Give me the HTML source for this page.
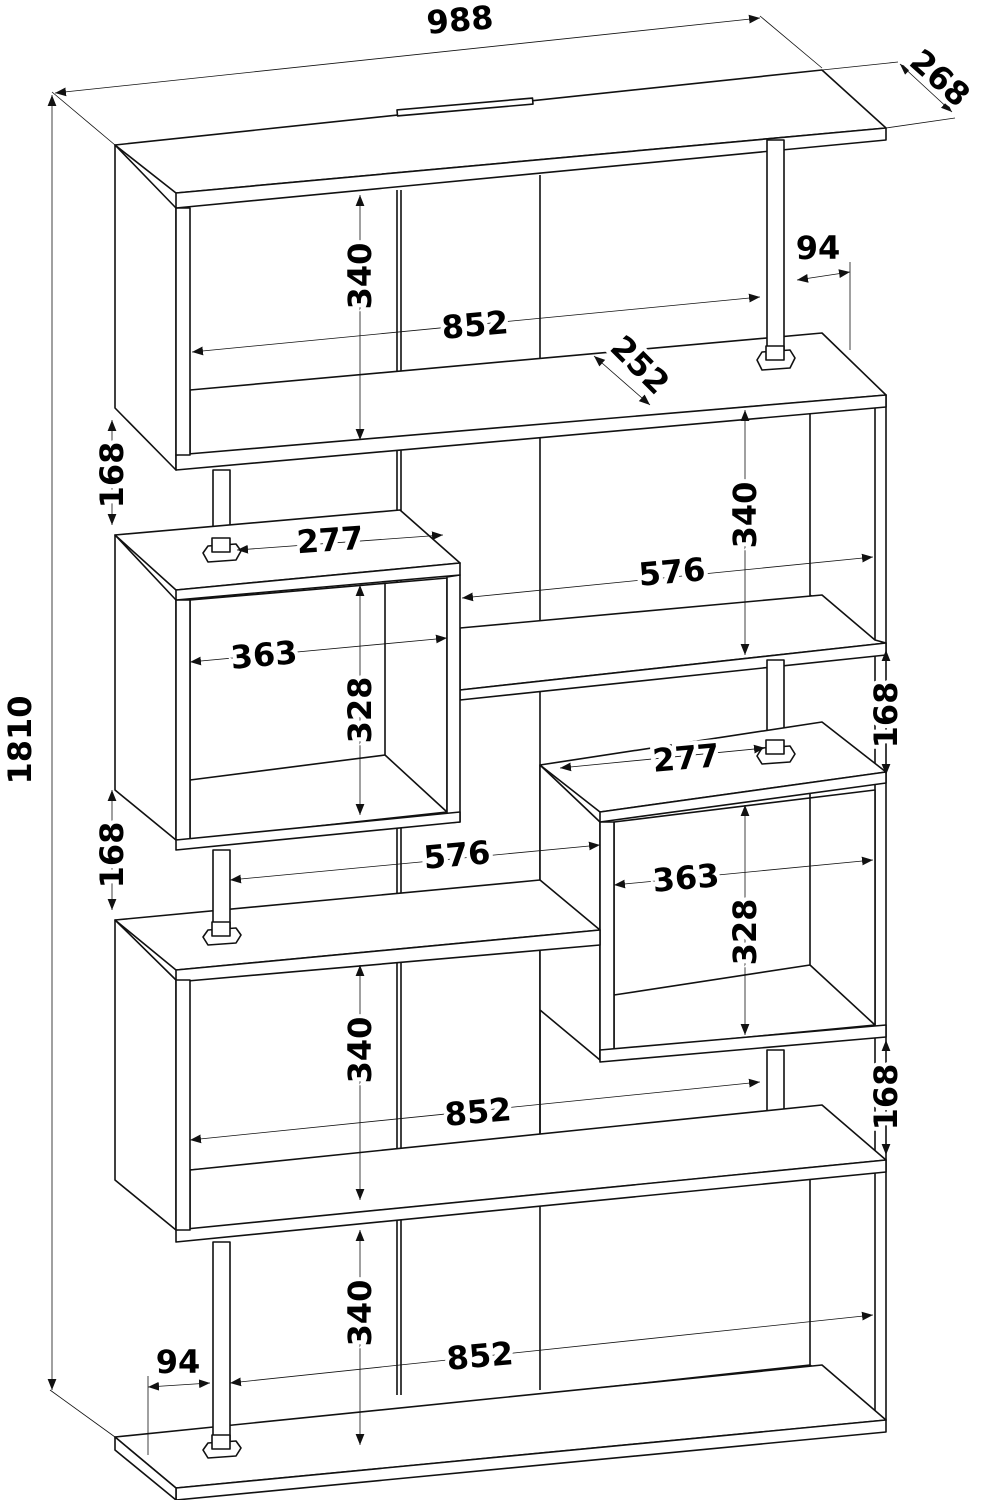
<!DOCTYPE html>
<html><head><meta charset="utf-8"><style>
html,body{margin:0;padding:0;background:#fff}
svg{display:block}
.b{fill:#fff;stroke:#111;stroke-width:1.6;stroke-linejoin:round}
.l{fill:none;stroke:#111;stroke-width:1.6}
.d{fill:none;stroke:#111;stroke-width:0.8}
.t{font-family:"DejaVu Sans","Liberation Sans",sans-serif;font-weight:bold;font-size:32px;fill:#000;stroke:#fff;stroke-width:8px;paint-order:stroke;text-anchor:middle;dominant-baseline:central}
</style></head><body>
<svg width="987" height="1500" viewBox="0 0 987 1500" xmlns="http://www.w3.org/2000/svg">
<defs>
<marker id="a" viewBox="0 0 10 10" refX="10" refY="5" markerWidth="11" markerHeight="11" markerUnits="userSpaceOnUse" orient="auto-start-reverse"><path d="M0,1 L10,5 L0,9 z" fill="#111"/></marker>
</defs>

<g class="l">
<line x1="397" y1="190" x2="397" y2="1395"/><line x1="401" y1="190" x2="401" y2="1395"/>
<line x1="540" y1="175" x2="540" y2="1390"/>
</g>

<rect class="b" x="875" y="395" width="11" height="1025"/>
<g class="l">
<polyline points="810,400 810,595 875,640"/>
<polyline points="810,1175 810,1365 875,1415"/>
<line x1="230" y1="1428" x2="810" y2="1365"/>
</g>

<!-- top unit -->
<polygon class="b" points="115,145 115,408 176,470 176,208"/>
<polygon class="b" points="190,390 822,333 886,395 190,455"/>
<polygon class="b" points="176,455 886,395 886,407 176,470"/>
<rect class="b" x="176" y="208" width="14" height="247"/>
<polygon class="b" points="115,145 822,70 886,128 176,193"/>
<polygon class="b" points="176,193 886,128 886,140 176,208"/>
<rect class="b" x="397" y="104" width="136" height="6" transform="rotate(-5 465 107)"/>
<rect class="b" x="767" y="140" width="17" height="210"/>
<path class="b" d="M757,360 L762,352 L790,350 L795,358 L790,368 L762,370 z"/>
<rect class="b" x="766" y="346" width="18" height="14"/>

<!-- shelf 2 -->
<polygon class="b" points="460,628 822,595 875,640 886,643 460,690"/>
<polygon class="b" points="460,690 886,643 886,655 460,700"/>
<rect class="b" x="213" y="470" width="17" height="75"/>

<!-- left cube -->
<polygon class="b" points="115,535 115,790 176,840 176,600"/>
<polygon class="b" points="190,600 447,578 447,812 190,840"/>
<g class="l"><polyline points="385,583 385,755 447,812"/><line x1="190" y1="780" x2="385" y2="755"/></g>
<rect class="b" x="176" y="600" width="14" height="240"/>
<polygon class="b" points="447,577 460,575 460,822 447,823"/>
<polygon class="b" points="176,840 460,812 460,822 176,850"/>
<polygon class="b" points="115,535 400,510 460,563 176,590"/>
<polygon class="b" points="176,590 460,563 460,575 176,600"/>
<path class="b" d="M203,553 L208,546 L236,544 L241,551 L236,560 L208,562 z"/>
<rect class="b" x="212" y="538" width="18" height="14"/>

<rect class="b" x="767" y="660" width="17" height="85"/>

<!-- right cube -->
<polygon class="b" points="540,765 540,1010 600,1060 600,822"/>
<polygon class="b" points="614,822 875,790 875,1025 614,1050"/>
<g class="l"><polyline points="810,790 810,965 875,1025"/><line x1="614" y1="995" x2="810" y2="965"/></g>
<rect class="b" x="600" y="822" width="14" height="238"/>
<polygon class="b" points="600,1050 886,1025 886,1037 600,1062"/>
<polygon class="b" points="540,765 822,722 886,772 600,812"/>
<polygon class="b" points="600,812 886,772 886,783 600,822"/>
<path class="b" d="M757,756 L762,748 L790,746 L795,754 L790,762 L762,764 z"/>
<rect class="b" x="766" y="740" width="18" height="14"/>

<!-- mid shelf (in front of right cube side) -->
<polygon class="b" points="115,920 540,880 600,930 176,970"/>
<polygon class="b" points="176,970 600,930 600,945 176,982"/>
<rect class="b" x="213" y="850" width="17" height="78"/>
<path class="b" d="M203,937 L208,930 L236,928 L241,935 L236,943 L208,945 z"/>
<rect class="b" x="212" y="922" width="18" height="14"/>

<!-- lower-left unit -->
<polygon class="b" points="115,920 115,1180 176,1230 176,980"/>
<line class="l" x1="190" y1="1170" x2="540" y2="1140"/>
<line class="l" x1="540" y1="1010" x2="540" y2="1140"/>
<rect class="b" x="767" y="1050" width="17" height="78"/>
<path class="b" d="M757,1138 L762,1130 L790,1128 L795,1136 L790,1144 L762,1146 z"/>
<rect class="b" x="766" y="1122" width="18" height="14"/>
<polygon class="b" points="190,1170 822,1105 886,1160 190,1229"/>
<polygon class="b" points="176,1230 886,1160 886,1172 176,1242"/>
<rect class="b" x="176" y="980" width="14" height="250"/>

<!-- bottom board -->
<polygon class="b" points="115,1437 822,1365 886,1420 176,1488"/>
<polygon class="b" points="176,1488 886,1420 886,1432 176,1500"/>
<polygon class="b" points="115,1437 176,1488 176,1500 115,1450"/>
<rect class="b" x="213" y="1242" width="17" height="198"/>
<path class="b" d="M203,1450 L208,1443 L236,1441 L241,1448 L236,1456 L208,1458 z"/>
<rect class="b" x="212" y="1435" width="18" height="14"/>

<g class="d">
<line x1="115" y1="145" x2="52" y2="92"/>
<line x1="822" y1="68" x2="760" y2="16"/>
<line x1="822" y1="70" x2="898" y2="62"/>
<line x1="886" y1="128" x2="955" y2="118"/>
<line x1="850" y1="262" x2="850" y2="350"/>
<line x1="148" y1="1376" x2="148" y2="1455"/>
<line x1="115" y1="1437" x2="50" y2="1390"/>
</g>
<g class="d" marker-start="url(#a)" marker-end="url(#a)">
<line x1="55" y1="93" x2="760" y2="18"/>
<line x1="900" y1="64" x2="952" y2="112"/>
<line x1="52" y1="95" x2="52" y2="1390"/>
<line x1="360" y1="195" x2="360" y2="440"/>
<line x1="192" y1="352" x2="760" y2="297"/>
<line x1="594" y1="356" x2="650" y2="405"/>
<line x1="797" y1="280" x2="850" y2="272"/>
<line x1="112" y1="420" x2="112" y2="525"/>
<line x1="237" y1="550" x2="443" y2="535"/>
<line x1="745" y1="410" x2="745" y2="655"/>
<line x1="462" y1="598" x2="873" y2="557"/>
<line x1="190" y1="662" x2="447" y2="638"/>
<line x1="360" y1="585" x2="360" y2="815"/>
<line x1="886" y1="650" x2="886" y2="775"/>
<line x1="560" y1="768" x2="765" y2="748"/>
<line x1="112" y1="790" x2="112" y2="910"/>
<line x1="230" y1="880" x2="600" y2="845"/>
<line x1="614" y1="885" x2="873" y2="860"/>
<line x1="745" y1="805" x2="745" y2="1035"/>
<line x1="360" y1="965" x2="360" y2="1200"/>
<line x1="190" y1="1140" x2="760" y2="1082"/>
<line x1="886" y1="1040" x2="886" y2="1155"/>
<line x1="360" y1="1230" x2="360" y2="1445"/>
<line x1="230" y1="1383" x2="873" y2="1315"/>
<line x1="148" y1="1387" x2="210" y2="1383"/>
</g>

<text class="t" x="460" y="20" transform="rotate(-5 460 20)">988</text>
<text class="t" x="940" y="78" transform="rotate(42 940 78)">268</text>
<text class="t" x="20" y="740" transform="rotate(-90 20 740)">1810</text>
<text class="t" x="360" y="276" transform="rotate(-90 360 276)">340</text>
<text class="t" x="475" y="325" transform="rotate(-5 475 325)">852</text>
<text class="t" x="640" y="365" transform="rotate(45 640 365)">252</text>
<text class="t" x="818" y="248">94</text>
<text class="t" x="112" y="475" transform="rotate(-90 112 475)">168</text>
<text class="t" x="330" y="540" transform="rotate(-4 330 540)">277</text>
<text class="t" x="745" y="515" transform="rotate(-90 745 515)">340</text>
<text class="t" x="672" y="572" transform="rotate(-5 672 572)">576</text>
<text class="t" x="264" y="655" transform="rotate(-5 264 655)">363</text>
<text class="t" x="360" y="710" transform="rotate(-90 360 710)">328</text>
<text class="t" x="886" y="715" transform="rotate(-90 886 715)">168</text>
<text class="t" x="686" y="758" transform="rotate(-5 686 758)">277</text>
<text class="t" x="112" y="855" transform="rotate(-90 112 855)">168</text>
<text class="t" x="457" y="855" transform="rotate(-5 457 855)">576</text>
<text class="t" x="686" y="878" transform="rotate(-5 686 878)">363</text>
<text class="t" x="745" y="932" transform="rotate(-90 745 932)">328</text>
<text class="t" x="360" y="1050" transform="rotate(-90 360 1050)">340</text>
<text class="t" x="478" y="1112" transform="rotate(-5 478 1112)">852</text>
<text class="t" x="886" y="1097" transform="rotate(-90 886 1097)">168</text>
<text class="t" x="360" y="1313" transform="rotate(-90 360 1313)">340</text>
<text class="t" x="480" y="1356" transform="rotate(-5 480 1356)">852</text>
<text class="t" x="178" y="1362">94</text>
</svg>
</body></html>
